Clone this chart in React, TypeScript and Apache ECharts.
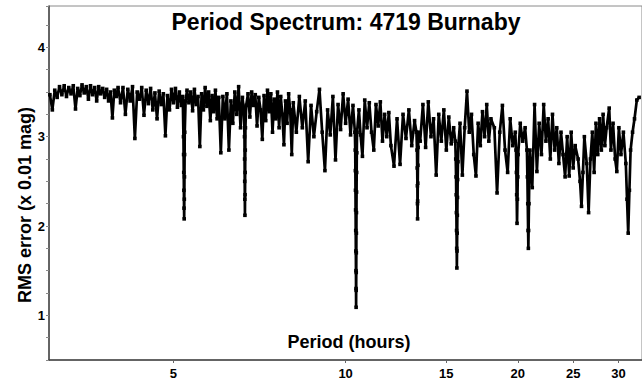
import React, { useEffect, useRef } from 'react';
import * as echarts from 'echarts';

const TITLE = 'Period Spectrum: 4719 Burnaby';
const X_NAME = 'Period (hours)';
const Y_NAME = 'RMS error (x 0.01 mag)';
const X_TICKS = [5, 10, 15, 20, 25, 30];
const Y_LABELS = [1, 2, 3, 4];
const PERIOD_RANGE = [3.029, 32.98];
const RMS_RANGE = [0.5, 4.463];

// [period (hours), RMS error (x 0.01 mag)]
const spectrum: [number, number][] = [
  [3.04, 3.47], [3.07, 3.30], [3.10, 3.52], [3.13, 3.44], [3.16, 3.56], [3.19, 3.47], [3.22, 3.57], [3.25, 3.45],
  [3.28, 3.55], [3.31, 3.48], [3.34, 3.57], [3.37, 3.31], [3.40, 3.54], [3.43, 3.46], [3.46, 3.58], [3.49, 3.49],
  [3.52, 3.56], [3.55, 3.42], [3.58, 3.57], [3.61, 3.47], [3.64, 3.55], [3.67, 3.40], [3.70, 3.56], [3.73, 3.48],
  [3.76, 3.54], [3.79, 3.44], [3.82, 3.53], [3.85, 3.40], [3.88, 3.50], [3.91, 3.21], [3.94, 3.52], [3.97, 3.45],
  [4.00, 3.55],
  [4.04, 3.38], [4.08, 3.55], [4.12, 3.25], [4.16, 3.53], [4.20, 3.40], [4.24, 3.56], [4.28, 2.98], [4.32, 3.50],
  [4.36, 3.42], [4.40, 3.55], [4.44, 3.24], [4.48, 3.52], [4.52, 3.37], [4.56, 3.54], [4.60, 3.30], [4.64, 3.49],
  [4.68, 3.20], [4.72, 3.51], [4.76, 3.36], [4.80, 3.48], [4.84, 3.01], [4.88, 3.46], [4.92, 3.30], [4.96, 3.53],
  [5.00, 3.38], [5.04, 3.54], [5.08, 3.33], [5.12, 3.50], [5.16, 3.35], [5.19, 3.45],
  [5.205, 3.00], [5.208, 2.80], [5.211, 2.60], [5.214, 2.40], [5.217, 2.20], [5.22, 2.08], [5.223, 2.30],
  [5.226, 2.55], [5.229, 2.80], [5.232, 3.05],
  [5.25, 3.40], [5.28, 3.52], [5.32, 3.38], [5.36, 3.50], [5.40, 3.29], [5.44, 3.53], [5.48, 3.36], [5.52, 3.45],
  [5.56, 2.89], [5.60, 3.48], [5.64, 3.30], [5.68, 3.55], [5.72, 3.34], [5.76, 3.50], [5.80, 3.18], [5.84, 3.46],
  [5.88, 3.28], [5.92, 3.52], [5.96, 3.20], [6.00, 3.44],
  [6.05, 2.82], [6.10, 3.45], [6.15, 3.20], [6.20, 3.48], [6.25, 2.85], [6.30, 3.40], [6.35, 3.15], [6.40, 3.50],
  [6.45, 3.25], [6.50, 3.56], [6.55, 3.10], [6.60, 3.44],
  [6.64, 3.30], [6.655, 3.00], [6.658, 2.75], [6.661, 2.50], [6.664, 2.30], [6.667, 2.12], [6.670, 2.35],
  [6.673, 2.60], [6.676, 2.85], [6.680, 3.10],
  [6.70, 3.35], [6.75, 3.48], [6.80, 3.22], [6.85, 3.50], [6.90, 3.35], [6.95, 3.47], [7.00, 3.12], [7.05, 3.44],
  [7.10, 3.30], [7.15, 2.97], [7.20, 3.46], [7.25, 3.18], [7.30, 3.52], [7.35, 3.28], [7.40, 3.48], [7.45, 3.05],
  [7.50, 3.42], [7.55, 3.20], [7.60, 3.50], [7.65, 3.10], [7.70, 3.45], [7.75, 3.25], [7.80, 2.91], [7.85, 3.40],
  [7.90, 3.15], [7.95, 3.48], [8.00, 3.30],
  [8.05, 2.80], [8.10, 3.38], [8.20, 3.05], [8.30, 3.45], [8.40, 3.10], [8.50, 3.40], [8.60, 2.72], [8.70, 3.35],
  [8.80, 3.00], [8.90, 3.28], [9.00, 3.53], [9.10, 3.05], [9.20, 2.62], [9.30, 3.30], [9.40, 3.02], [9.50, 3.45],
  [9.60, 2.74], [9.70, 3.36], [9.80, 3.08], [9.90, 3.48], [10.00, 3.15], [10.10, 3.42], [10.20, 3.02], [10.30, 3.35],
  [10.38, 3.05], [10.395, 2.85], [10.40, 2.62], [10.405, 2.40], [10.41, 2.18], [10.415, 1.95], [10.42, 1.72],
  [10.425, 1.50], [10.428, 1.30], [10.431, 1.09], [10.434, 1.28], [10.437, 1.48], [10.44, 1.70], [10.443, 1.92],
  [10.446, 2.15], [10.45, 2.38], [10.455, 2.60], [10.46, 2.82], [10.47, 3.05],
  [10.55, 3.30], [10.62, 3.02], [10.70, 2.78], [10.80, 3.41], [10.90, 3.10], [11.00, 3.38], [11.10, 3.05], [11.20, 2.85],
  [11.30, 3.36], [11.40, 3.12], [11.50, 3.39], [11.60, 2.95], [11.70, 3.25], [11.80, 3.00], [11.90, 3.27], [12.00, 2.90],
  [12.15, 2.67], [12.30, 3.20], [12.45, 2.69], [12.60, 3.25], [12.75, 2.98], [12.90, 3.30], [13.05, 2.90], [13.20, 3.18],
  [13.30, 3.05], [13.33, 2.85], [13.34, 2.65], [13.35, 2.45], [13.355, 2.25], [13.36, 2.08], [13.365, 2.28],
  [13.37, 2.48], [13.38, 2.68], [13.39, 2.88], [13.41, 3.05],
  [13.50, 2.95], [13.65, 3.36], [13.80, 2.88], [13.95, 3.39], [14.10, 3.00], [14.25, 3.20], [14.40, 2.57], [14.55, 3.25],
  [14.70, 2.95], [14.85, 3.30], [15.00, 2.85], [15.15, 3.22], [15.30, 2.92], [15.45, 3.10],
  [15.55, 2.95], [15.58, 2.75], [15.60, 2.55], [15.61, 2.35], [15.62, 2.15], [15.63, 1.95], [15.64, 1.75],
  [15.65, 1.53], [15.66, 1.72], [15.67, 1.92], [15.68, 2.12], [15.69, 2.32], [15.70, 2.52], [15.72, 2.72], [15.75, 2.92],
  [15.85, 3.15], [16.00, 2.57], [16.15, 3.10], [16.30, 3.51], [16.45, 3.05], [16.60, 3.25], [16.75, 2.80], [16.90, 2.56],
  [17.05, 3.15], [17.20, 2.90], [17.35, 3.28], [17.50, 3.00], [17.65, 3.36], [17.80, 2.95], [17.95, 3.20],
  [18.20, 3.10], [18.40, 2.37], [18.60, 3.05], [18.80, 3.35], [19.00, 2.85], [19.20, 2.60], [19.40, 3.20], [19.60, 2.90],
  [19.80, 3.05], [19.86, 2.85], [19.89, 2.60], [19.91, 2.35], [19.94, 2.03], [19.97, 2.30], [20.00, 2.55], [20.03, 2.80],
  [20.20, 3.15], [20.40, 2.95], [20.60, 3.10],
  [20.75, 2.85], [20.79, 2.55], [20.82, 2.25], [20.85, 1.95], [20.87, 1.75], [20.89, 1.95], [20.92, 2.25], [20.95, 2.55],
  [21.00, 2.85], [21.20, 2.43], [21.40, 3.36], [21.60, 2.61], [21.80, 3.15], [22.00, 2.80], [22.20, 3.36], [22.40, 2.95],
  [22.60, 3.20], [22.80, 2.75], [23.00, 3.25], [23.20, 2.85], [23.40, 3.10], [23.60, 2.70], [23.80, 3.05], [24.00, 2.80],
  [24.20, 2.55], [24.40, 3.00], [24.60, 2.56], [24.80, 3.05], [25.00, 2.65], [25.20, 2.90],
  [25.50, 2.75], [25.70, 2.50], [25.85, 2.22], [26.00, 2.60], [26.15, 3.00], [26.40, 2.70], [26.60, 2.15], [26.80, 2.75],
  [27.00, 3.05], [27.20, 2.60], [27.40, 3.15], [27.60, 2.80], [27.80, 3.20], [28.00, 2.85], [28.20, 3.25], [28.40, 2.90],
  [28.60, 3.10], [28.90, 3.32], [29.10, 2.85], [29.35, 3.15], [29.60, 2.75], [29.80, 2.61], [30.05, 3.10], [30.30, 2.80],
  [30.60, 3.05], [30.90, 2.70], [31.05, 2.30], [31.20, 1.92], [31.35, 2.40], [31.50, 2.85], [31.75, 3.05], [32.00, 3.20],
  [32.30, 3.41], [32.60, 3.44],
];

const FONT = '"Liberation Sans", Arial, sans-serif';

export default function App() {
  const ref = useRef<HTMLDivElement>(null);

  useEffect(() => {
    if (!ref.current) return;
    const chart = echarts.init(ref.current, null, { renderer: 'svg' });
    const logTicks = X_TICKS.map((t) => Math.log10(t));
    chart.setOption({
      animation: false,
      backgroundColor: '#fff',
      grid: {
        left: 49,
        right: -3,
        top: 6,
        bottom: 21,
        show: true,
        borderColor: '#8a8a8a',
        borderWidth: 1,
        backgroundColor: 'transparent',
      },
      xAxis: {
        type: 'value',
        min: Math.log10(PERIOD_RANGE[0]),
        max: Math.log10(PERIOD_RANGE[1]),
        axisLine: { show: true, onZero: false, lineStyle: { color: '#444', width: 1.5 } },
        axisTick: { show: true, length: 3, customValues: logTicks, lineStyle: { color: '#666', width: 1 } },
        axisLabel: {
          customValues: logTicks,
          formatter: (v: number) => String(Math.round(Math.pow(10, v))),
          color: '#000',
          fontWeight: 'bold',
          fontSize: 13,
          fontFamily: FONT,
          margin: 7,
        },
        splitLine: { show: false },
      },
      yAxis: {
        type: 'value',
        min: RMS_RANGE[0],
        max: RMS_RANGE[1],
        interval: 0.25,
        axisLine: { show: true, lineStyle: { color: '#444', width: 1.5 } },
        axisTick: { show: true, length: 3, lineStyle: { color: '#888', width: 1 } },
        axisLabel: {
          formatter: (v: number) => (Y_LABELS.some((l) => Math.abs(l - v) < 1e-6) ? String(Math.round(v)) : ''),
          color: '#000',
          fontWeight: 'bold',
          fontSize: 13,
          fontFamily: FONT,
          margin: 4,
        },
        splitLine: { show: false },
      },
      graphic: [
        {
          type: 'text',
          x: 346,
          y: 22,
          style: {
            text: TITLE,
            textAlign: 'center',
            textVerticalAlign: 'middle',
            font: `bold 23px ${FONT}`,
            fill: '#000',
          },
        },
        {
          type: 'text',
          x: 349,
          y: 342,
          style: {
            text: X_NAME,
            textAlign: 'center',
            textVerticalAlign: 'middle',
            font: `bold 18px ${FONT}`,
            fill: '#000',
          },
        },
        {
          type: 'text',
          x: 25,
          y: 205,
          rotation: Math.PI / 2,
          style: {
            text: Y_NAME,
            textAlign: 'center',
            textVerticalAlign: 'middle',
            font: `bold 18px ${FONT}`,
            fill: '#000',
          },
        },
      ],
      series: [
        {
          type: 'line',
          data: spectrum.map(([p, r]) => [Math.log10(p), r]),
          symbol: 'rect',
          symbolSize: 3.6,
          showAllSymbol: true,
          itemStyle: { color: '#000' },
          lineStyle: { color: '#000', width: 2.7, join: 'bevel' },
          clip: true,
        },
      ],
    });
    return () => chart.dispose();
  }, []);

  return (
    <div
      ref={ref}
      style={{ position: 'fixed', left: 0, top: 0, width: 642, height: 381, background: '#fff' }}
    />
  );
}
